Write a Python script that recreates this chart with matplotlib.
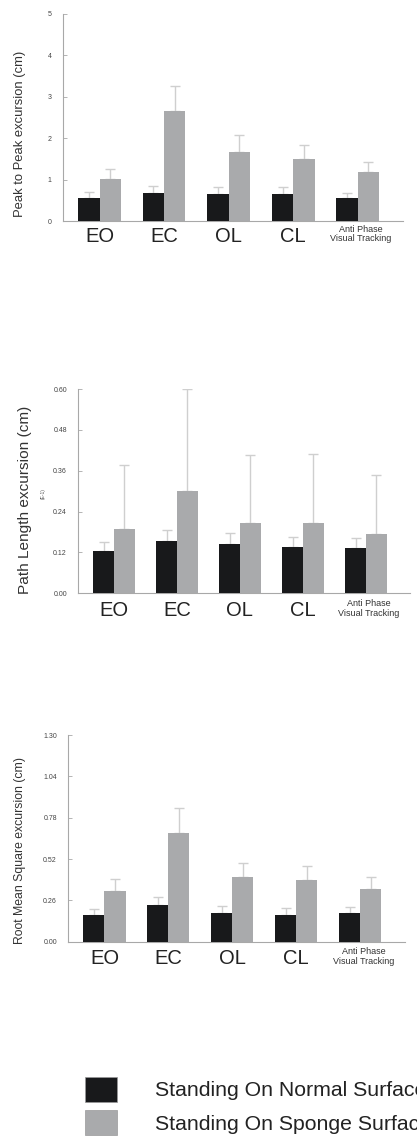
import matplotlib
matplotlib.use("Agg")
import matplotlib.pyplot as plt
from matplotlib.patches import Rectangle
import matplotlib.transforms as mtrans
import numpy as np

plt.rcParams['font.family'] = ['Liberation Sans', 'DejaVu Sans']

conditions = ["EO", "EC", "OL", "CL", "Anti Phase\nVisual Tracking"]
legend_labels = ["Standing On Normal Surface", "Standing On Sponge Surface"]

# Peak to peak excursion (cm)
p2p_normal = [0.56, 0.68, 0.65, 0.65, 0.56]
p2p_normal_err = [0.15, 0.17, 0.16, 0.16, 0.12]
p2p_sponge = [1.01, 2.66, 1.67, 1.50, 1.18]
p2p_sponge_err = [0.24, 0.59, 0.40, 0.34, 0.25]
p2p_ticks = [0, 1, 2, 3, 4, 5]
p2p_ticklabels = ["0", "1", "2", "3", "4", "5"]

# Path length excursion (cm, E-1)
pl_normal = [0.124, 0.153, 0.145, 0.135, 0.132]
pl_normal_err = [0.027, 0.033, 0.031, 0.030, 0.030]
pl_sponge = [0.189, 0.300, 0.205, 0.205, 0.174]
pl_sponge_err = [0.189, 0.300, 0.202, 0.203, 0.174]
pl_ticks = [0.00, 0.12, 0.24, 0.36, 0.48, 0.60]
pl_ticklabels = ["0.00", "0.12", "0.24", "0.36", "0.48", "0.60"]

# Root mean square excursion (cm)
rms_normal = [0.168, 0.231, 0.182, 0.170, 0.178]
rms_normal_err = [0.040, 0.052, 0.042, 0.040, 0.038]
rms_sponge = [0.319, 0.686, 0.405, 0.386, 0.331]
rms_sponge_err = [0.073, 0.155, 0.092, 0.088, 0.074]
rms_ticks = [0.00, 0.26, 0.52, 0.78, 1.04, 1.30]
rms_ticklabels = ["0.00", "0.26", "0.52", "0.78", "1.04", "1.30"]

BLACK = "#18191b"
GRAY = "#a9aaac"
ERR = "#cfcfcf"
SPINE = "#a8a8a8"

W, H = 417, 1136
fig = plt.figure(figsize=(W / 100, H / 100), dpi=100)


def px_axes(left, right, top, bottom):
    return fig.add_axes([left / W, 1 - bottom / H, (right - left) / W, (bottom - top) / H])


def panel(ax, normal, nerr, sponge, serr, ticks, ticklabels, ylabel, ylabel_size,
          ylabel_xy, big_off, small_off):
    x = np.arange(len(conditions))
    w = 0.33
    ax.bar(x - w / 2, normal, w, color=BLACK, zorder=3)
    ax.bar(x + w / 2, sponge, w, color=GRAY, zorder=3)
    ax.errorbar(x - w / 2, normal, yerr=[np.zeros(len(x)), nerr], fmt="none",
                ecolor=ERR, elinewidth=1.0, capsize=3.5, capthick=1.0, zorder=2)
    ax.errorbar(x + w / 2, sponge, yerr=[np.zeros(len(x)), serr], fmt="none",
                ecolor=ERR, elinewidth=1.0, capsize=3.5, capthick=1.0, zorder=2)
    ax.set_xlim(-0.57, 4.7)
    ax.set_ylim(ticks[0], ticks[-1])
    ax.set_yticks(ticks)
    ax.set_yticklabels(ticklabels, fontsize=5, color="#444444")
    ax.tick_params(axis="y", direction="in", length=3, width=0.6, color=SPINE, pad=8)
    ax.set_xticks([])
    for side in ("top", "right"):
        ax.spines[side].set_visible(False)
    for side in ("left", "bottom"):
        ax.spines[side].set_color(SPINE)
        ax.spines[side].set_linewidth(0.8)
    ax.spines["left"].set_bounds(ticks[0], ticks[-1])
    trans = mtrans.blended_transform_factory(ax.transData, ax.transAxes)
    for xi, lab in zip(x, conditions):
        if "\n" in lab:
            ax.text(xi + 0.05, 0, lab, ha="center", va="center",
                    fontsize=6.5, color="#333333", linespacing=1.1,
                    transform=trans + mtrans.ScaledTranslation(0, -small_off / 100, fig.dpi_scale_trans))
        else:
            ax.text(xi, 0, lab, ha="center", va="center",
                    fontsize=14.5, color="#222222",
                    transform=trans + mtrans.ScaledTranslation(0, -big_off / 100, fig.dpi_scale_trans))
    fig.text(ylabel_xy[0] / W, 1 - ylabel_xy[1] / H, ylabel, rotation=90, ha="center",
             va="center", fontsize=ylabel_size, color="#333333")


ax1 = px_axes(62.7, 403, 14, 221)
panel(ax1, p2p_normal, p2p_normal_err, p2p_sponge, p2p_sponge_err, p2p_ticks,
      p2p_ticklabels, "Peak to Peak excursion (cm)", 9.4, (20, 134), 16, 13)

ax2 = px_axes(78, 410, 389, 593.3)
panel(ax2, pl_normal, pl_normal_err, pl_sponge, pl_sponge_err, pl_ticks,
      pl_ticklabels, "Path Length excursion (cm)", 11.1, (25, 500), 17, 15)
fig.text(43 / W, 1 - 494 / H, "(E-1)", rotation=90, ha="center", va="center",
         fontsize=3.5, color="#555555")

ax3 = px_axes(68, 405, 735, 941.7)
panel(ax3, rms_normal, rms_normal_err, rms_sponge, rms_sponge_err, rms_ticks,
      rms_ticklabels, "Root Mean Square excursion (cm)", 8.8, (20, 851), 16.5, 15)

# Legend drawn as swatches with labels
for (y0, color, lab) in [(1077, BLACK, legend_labels[0]), (1110, GRAY, legend_labels[1])]:
    fig.patches.append(Rectangle((85 / W, 1 - (y0 + 25) / H), 32 / W, 25 / H,
                                 transform=fig.transFigure, facecolor=color,
                                 edgecolor="#999999", linewidth=0.5))
    fig.text(155 / W, 1 - (y0 + 14) / H, lab, ha="left", va="center",
             fontsize=15.3, color="#222222")

fig.savefig("out.png", dpi=100)
